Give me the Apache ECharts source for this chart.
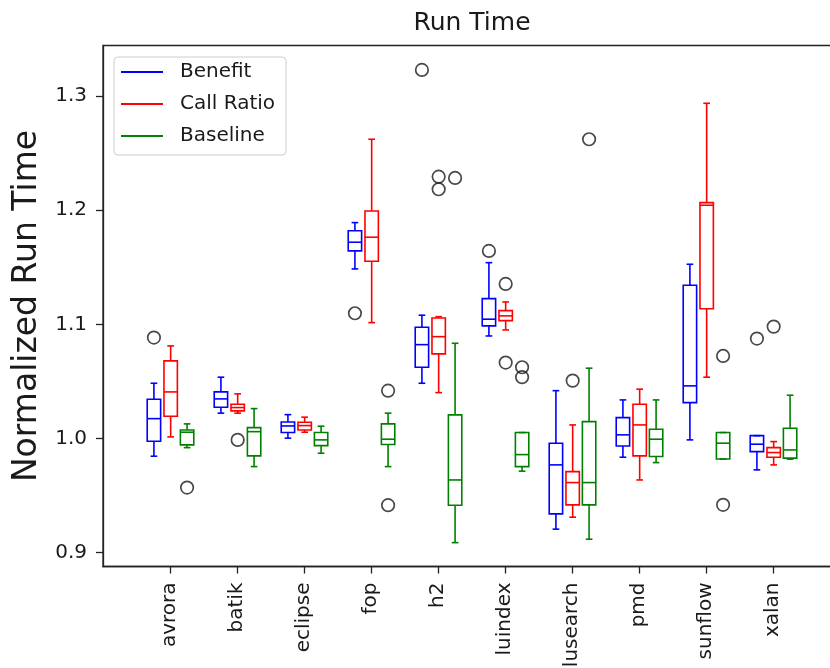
<!DOCTYPE html>
<html>
<head>
<meta charset="utf-8">
<script src="https://cdn.jsdelivr.net/npm/echarts@6/dist/echarts.min.js"></script>
<style>
  html, body { margin: 0; padding: 0; background: #fff; }
  #main { width: 830px; height: 668px; }
</style>
</head>
<body>
<div id="main"></div>
<script>
// benchmark names on the x axis
var categories = ['avrora', 'batik', 'eclipse', 'fop', 'h2', 'luindex', 'lusearch', 'pmd', 'sunflow', 'xalan'];
var yTicks = [0.9, 1.0, 1.1, 1.2, 1.3];

// each row: [lower whisker, Q1, median, Q3, upper whisker]
var benefit = [
    [0.9845, 0.9976, 1.0174, 1.0344, 1.0484],
    [1.0222, 1.0274, 1.0347, 1.0408, 1.0537],
    [1.0003, 1.0052, 1.0110, 1.0145, 1.0209],
    [1.1485, 1.1643, 1.1719, 1.1820, 1.1891],
    [1.0484, 1.0624, 1.0822, 1.0975, 1.1080],
    [1.0898, 1.0986, 1.1045, 1.1225, 1.1540],
    [0.9206, 0.9340, 0.9769, 0.9959, 1.0419],
    [0.9836, 0.9935, 1.0032, 1.0183, 1.0338],
    [0.9988, 1.0314, 1.0461, 1.1342, 1.1526],
    [0.9725, 0.9885, 0.9950, 1.0025, 1.0025]
];
var callRatio = [
    [1.0014, 1.0195, 1.0408, 1.0680, 1.0811],
    [1.0222, 1.0242, 1.0271, 1.0300, 1.0391],
    [1.0055, 1.0075, 1.0113, 1.0142, 1.0187],
    [1.1015, 1.1553, 1.1763, 1.1993, 1.2621],
    [1.0402, 1.0741, 1.0892, 1.1056, 1.1067],
    [1.0951, 1.1032, 1.1074, 1.1120, 1.1196],
    [0.9311, 0.9419, 0.9614, 0.9710, 1.0119],
    [0.9637, 0.9848, 1.0119, 1.0300, 1.0432],
    [1.0537, 1.1137, 1.2043, 1.2066, 1.2936],
    [0.9769, 0.9836, 0.9877, 0.9920, 0.9973]
];
var baseline = [
    [0.9920, 0.9944, 1.0055, 1.0075, 1.0128],
    [0.9754, 0.9848, 1.0060, 1.0095, 1.0262],
    [0.9871, 0.9938, 0.9988, 1.0052, 1.0108],
    [0.9754, 0.9947, 0.9994, 1.0128, 1.0222],
    [0.9088, 0.9416, 0.9637, 1.0207, 1.0834],
    [0.9714, 0.9754, 0.9859, 1.0052, 1.0052],
    [0.9118, 0.9419, 0.9614, 1.0148, 1.0616],
    [0.9789, 0.9842, 0.9994, 1.0081, 1.0338],
    [0.9821, 0.9821, 0.9959, 1.0052, 1.0052],
    [0.9819, 0.9828, 0.9900, 1.0090, 1.0379]
];

// outliers: [category index, value]
var benefitOut = [[0, 1.0884], [3, 1.1097], [4, 1.3228], [5, 1.1643], [9, 1.0875]];
var callRatioOut = [[1, 0.9988], [4, 1.2293], [4, 1.2183], [5, 1.1354], [5, 1.0665], [6, 1.0507], [9, 1.0980]];
var baselineOut = [[0, 0.9570], [3, 1.0419], [3, 0.9416], [4, 1.2282], [5, 1.0624], [5, 1.0537], [6, 1.2621], [8, 1.0723], [8, 0.9419]];

var BOX_W = 0.2;   // box width in x units
var LW = 1.6;
var FONT = 'DejaVu Sans';
var TXT = '#1a1a1a';

var groups = [
    { name: 'Benefit', color: '#0000ff', offset: -0.24, stats: benefit, out: benefitOut },
    { name: 'Call Ratio', color: '#ff0000', offset: 0.01, stats: callRatio, out: callRatioOut },
    { name: 'Baseline', color: '#008000', offset: 0.255, stats: baseline, out: baselineOut }
];

function boxRenderer(offset, color) {
    return function (params, api) {
        var x = api.value(0) + offset;
        var lo = api.coord([x, api.value(1)]);
        var q1 = api.coord([x, api.value(2)]);
        var med = api.coord([x, api.value(3)]);
        var q3 = api.coord([x, api.value(4)]);
        var hi = api.coord([x, api.value(5)]);
        var cx = lo[0];
        var half = api.size([BOX_W, 0])[0] / 2;
        var cap = half / 2;
        var st = { stroke: color, lineWidth: LW, fill: null };
        return {
            type: 'group',
            children: [
                { type: 'line', shape: { x1: cx, y1: lo[1], x2: cx, y2: q1[1] }, style: st },
                { type: 'line', shape: { x1: cx, y1: q3[1], x2: cx, y2: hi[1] }, style: st },
                { type: 'line', shape: { x1: cx - cap, y1: lo[1], x2: cx + cap, y2: lo[1] }, style: st },
                { type: 'line', shape: { x1: cx - cap, y1: hi[1], x2: cx + cap, y2: hi[1] }, style: st },
                { type: 'rect', shape: { x: cx - half, y: q3[1], width: half * 2, height: q1[1] - q3[1] }, style: st },
                { type: 'line', shape: { x1: cx - half, y1: med[1], x2: cx + half, y2: med[1] }, style: st }
            ]
        };
    };
}

var series = [];
groups.forEach(function (g) {
    series.push({
        name: g.name,
        type: 'custom',
        itemStyle: { color: g.color },
        renderItem: boxRenderer(g.offset, g.color),
        encode: { x: 0, y: [1, 2, 3, 4, 5] },
        data: g.stats.map(function (d, i) { return [i].concat(d); }),
        z: 2
    });
});
groups.forEach(function (g) {
    series.push({
        name: g.name + ' outliers',
        type: 'scatter',
        symbol: 'circle',
        symbolSize: 12.5,
        itemStyle: { color: 'rgba(0,0,0,0)', borderColor: '#1a1a1a', borderWidth: 1.7 },
        data: g.out.map(function (d) { return [d[0] + g.offset, d[1]]; }),
        z: 3
    });
});

var chart = echarts.init(document.getElementById('main'));
chart.setOption({
    animation: false,
    textStyle: { fontFamily: FONT },
    title: {
        text: 'Run Time',
        left: 467,
        top: 6,
        textAlign: 'center',
        textStyle: { fontFamily: FONT, fontSize: 25, fontWeight: 'normal', color: TXT }
    },
    legend: {
        orient: 'vertical',
        left: 114,
        top: 57,
        padding: [4, 11, 8, 7],
        itemWidth: 42,
        itemHeight: 2,
        itemGap: 10,
        borderColor: '#cccccc',
        borderWidth: 1,
        borderRadius: 4,
        backgroundColor: 'rgba(255,255,255,0.8)',
        icon: 'rect',
        textStyle: { fontFamily: FONT, fontSize: 20, color: TXT, lineHeight: 22, padding: [0, 0, 0, 12] },
        data: groups.map(function (g) { return g.name; })
    },
    grid: {
        left: 103,
        right: -10,
        top: 45.5,
        bottom: 101.5,
        outerBoundsMode: 'none',
        containLabel: false,
        show: true,
        borderColor: '#222',
        borderWidth: 1.3
    },
    xAxis: {
        type: 'value',
        min: -1,
        max: 10,
        axisLine: { show: true, onZero: false, lineStyle: { color: '#222', width: 1.3 } },
        axisTick: { show: true, length: 7, customValues: categories.map(function (c, i) { return i; }), lineStyle: { color: '#222', width: 1.3 } },
        axisLabel: {
            customValues: categories.map(function (c, i) { return i; }),
            formatter: function (v) { return categories[v]; },
            rotate: 90,
            margin: 16,
            fontFamily: FONT,
            fontSize: 20,
            color: TXT
        },
        splitLine: { show: false }
    },
    yAxis: {
        type: 'value',
        min: 0.8879,
        max: 1.3442,
        name: 'Normalized Run Time',
        nameLocation: 'middle',
        nameRotate: 90,
        nameGap: 52,
        nameTextStyle: { fontFamily: FONT, fontSize: 33, color: TXT },
        axisLine: { show: true, onZero: false, lineStyle: { color: '#222', width: 1.3 } },
        axisTick: { show: true, length: 7, customValues: yTicks, lineStyle: { color: '#222', width: 1.3 } },
        axisLabel: {
            customValues: yTicks,
            formatter: function (v) { return v.toFixed(1); },
            margin: 16,
            fontFamily: FONT,
            fontSize: 20,
            color: TXT
        },
        splitLine: { show: false }
    },
    series: series
});
</script>
</body>
</html>
